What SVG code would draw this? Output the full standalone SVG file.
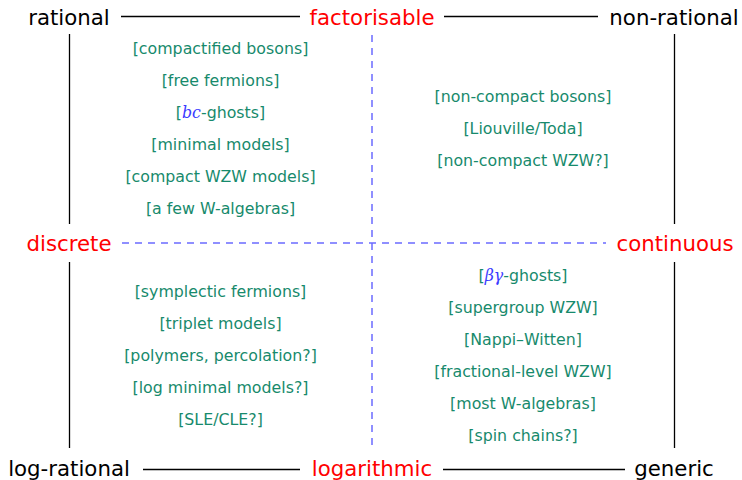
<svg xmlns="http://www.w3.org/2000/svg" width="742" height="480" viewBox="0 0 742 480">
<style>
.big{font-family:"DejaVu Sans","Liberation Sans",sans-serif;font-size:21.3px;text-anchor:middle;fill:#000}
.red{fill:#ff0000}
.item{font-family:"DejaVu Sans","Liberation Sans",sans-serif;font-size:15.8px;text-anchor:middle;fill:#178a6c}
.math{font-family:"DejaVu Serif","Liberation Serif",serif;font-style:italic;fill:#3b3bff}
.solid{stroke:#000;stroke-width:1.3;fill:none}
.dash{stroke:#6b6bff;stroke-width:1.5;stroke-dasharray:7 6;fill:none}
</style>
<rect width="742" height="480" fill="#fff"/>
<g id="connectors">
<line class="solid" x1="121" y1="16.5" x2="300" y2="16.5"/>
<line class="solid" x1="444" y1="16.5" x2="598" y2="16.5"/>
<line class="solid" x1="143" y1="469.5" x2="300" y2="469.5"/>
<line class="solid" x1="443" y1="469.5" x2="625" y2="469.5"/>
<line class="solid" x1="69.5" y1="34" x2="69.5" y2="224"/>
<line class="solid" x1="69.5" y1="262" x2="69.5" y2="448"/>
<line class="solid" x1="674.5" y1="34" x2="674.5" y2="224"/>
<line class="solid" x1="674.5" y1="262" x2="674.5" y2="448"/>
<line class="dash" x1="372" y1="35" x2="372" y2="446"/>
<line class="dash" x1="122" y1="243" x2="606" y2="243"/>
</g>
<g id="rational"><text class="big" x="69" y="25">rational</text></g>
<g id="factorisable"><text class="big red" x="372" y="25">factorisable</text></g>
<g id="non-rational"><text class="big" x="674" y="25">non-rational</text></g>
<g id="discrete"><text class="big red" x="69" y="251">discrete</text></g>
<g id="continuous"><text class="big red" x="675" y="251">continuous</text></g>
<g id="log-rational"><text class="big" x="69" y="476">log-rational</text></g>
<g id="logarithmic"><text class="big red" x="372" y="476">logarithmic</text></g>
<g id="generic"><text class="big" x="674" y="476">generic</text></g>
<g id="rational-examples">
<text class="item" x="220.5" y="54">[compactified bosons]</text>
<text class="item" x="220.5" y="86">[free fermions]</text>
<text class="item" x="220.5" y="118">[<tspan class="math">bc</tspan>-ghosts]</text>
<text class="item" x="220.5" y="150">[minimal models]</text>
<text class="item" x="220.5" y="182">[compact WZW models]</text>
<text class="item" x="220.5" y="214">[a few W-algebras]</text>
</g>
<g id="nonrational-examples">
<text class="item" x="523" y="102">[non-compact bosons]</text>
<text class="item" x="523" y="134">[Liouville/Toda]</text>
<text class="item" x="523" y="166">[non-compact WZW?]</text>
</g>
<g id="lograt-examples">
<text class="item" x="220.5" y="297">[symplectic fermions]</text>
<text class="item" x="220.5" y="329">[triplet models]</text>
<text class="item" x="220.5" y="361">[polymers, percolation?]</text>
<text class="item" x="220.5" y="393">[log minimal models?]</text>
<text class="item" x="220.5" y="425">[SLE/CLE?]</text>
</g>
<g id="generic-examples">
<text class="item" x="523" y="281">[<tspan class="math">βγ</tspan>-ghosts]</text>
<text class="item" x="523" y="313">[supergroup WZW]</text>
<text class="item" x="523" y="345">[Nappi–Witten]</text>
<text class="item" x="523" y="377">[fractional-level WZW]</text>
<text class="item" x="523" y="409">[most W-algebras]</text>
<text class="item" x="523" y="441">[spin chains?]</text>
</g>
</svg>
